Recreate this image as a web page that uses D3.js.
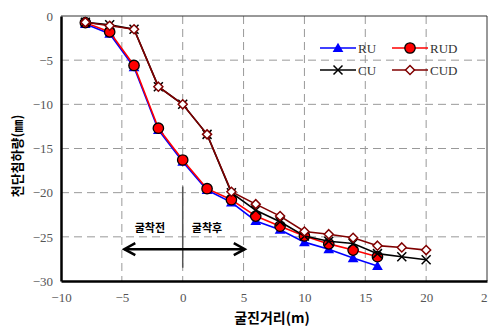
<!DOCTYPE html>
<html>
<head>
<meta charset="utf-8">
<script src="https://cdn.jsdelivr.net/npm/d3@7"></script>
<style>
  html, body { margin: 0; padding: 0; background: #fff; }
  svg { display: block; }
</style>
</head>
<body>
<svg id="chart" width="488" height="329"></svg>
<script>
// Tunnel-crown settlement vs. excavation distance
const xTicks = [-10, -5, 0, 5, 10, 15, 20, 25];
const yTicks = [0, -5, -10, -15, -20, -25, -30];

const xRU  = [-8, -6, -4, -2, 0, 2, 4, 6, 8, 10, 12, 14, 16];
const xCU  = [-8, -6, -4, -2, 0, 2, 4, 6, 8, 10, 12, 14, 16, 18, 20];

const ruValues  = [-0.9, -2.0, -5.8, -12.9, -16.5, -19.7, -21.1, -23.2, -24.2, -25.6, -26.4, -27.4, -28.3];
const rudValues = [-0.75, -1.8, -5.6, -12.7, -16.3, -19.55, -20.8, -22.65, -23.8, -24.9, -25.8, -26.5, -27.25];
const cuValues  = [-0.7, -1.0, -1.5, -8.0, -10.0, -13.4, -20.0, -22.0, -23.3, -24.9, -25.5, -25.75, -26.9, -27.25, -27.6];
const cudValues = [-0.7, -1.1, -1.5, -8.0, -10.0, -13.4, -19.9, -21.3, -22.65, -24.4, -24.7, -25.1, -26.0, -26.2, -26.5];

const seriesNames = ["RU", "RUD", "CU", "CUD"];

const xLabel = "굴진거리(m)";
const yLabel = "천단침하량(㎜)";
const beforeLabel = "굴착전";
const afterLabel = "굴착후";

const margin = { left: 61, right: 1, top: 16, bottom: 48 };
const W = 488, H = 329;
const svg = d3.select("#chart");

const x = d3.scaleLinear().domain([-10, 25]).range([margin.left, W - margin.right]);
const y = d3.scaleLinear().domain([-30, 0]).range([H - margin.bottom, margin.top]);

const tickFont = "'Liberation Serif', 'DejaVu Serif', serif";
const koFont = "'Noto Sans CJK KR', sans-serif";

// dashed grid
const grid = svg.append("g");
grid.selectAll("line.gx").data(xTicks.slice(1, -1)).join("line")
  .attr("x1", d => x(d)).attr("x2", d => x(d))
  .attr("y1", y(0)).attr("y2", y(-30))
  .attr("stroke", "#999").attr("stroke-width", 1).attr("stroke-dasharray", "8,5");
grid.selectAll("line.gy").data(yTicks.slice(1, -1)).join("line")
  .attr("x1", x(-10)).attr("x2", x(25))
  .attr("y1", d => y(d)).attr("y2", d => y(d))
  .attr("stroke", "#999").attr("stroke-width", 1).attr("stroke-dasharray", "8,5");

// frame: thin top/right, heavy left/bottom
svg.append("line").attr("x1", x(-10)).attr("x2", x(25)).attr("y1", y(0)).attr("y2", y(0))
  .attr("stroke", "#333").attr("stroke-width", 1);
svg.append("line").attr("x1", x(25)).attr("x2", x(25)).attr("y1", y(0)).attr("y2", y(-30))
  .attr("stroke", "#333").attr("stroke-width", 1);

const xAxis = svg.append("g").attr("transform", `translate(0,${y(-30)})`)
  .call(d3.axisBottom(x).tickValues(xTicks).tickSize(0).tickPadding(12).tickFormat(d3.format("d")));
const yAxis = svg.append("g").attr("transform", `translate(${x(-10)},0)`)
  .call(d3.axisLeft(y).tickValues(yTicks).tickSize(0).tickPadding(8).tickFormat(d3.format("d")));
[xAxis, yAxis].forEach(a => {
  a.select(".domain").attr("stroke", "#000").attr("stroke-width", 2.5);
  a.selectAll("text").attr("font-family", tickFont).attr("font-size", 13).attr("fill", "#555");
});

// axis titles
svg.append("text").attr("x", 272).attr("y", 323).attr("text-anchor", "middle")
  .attr("font-family", koFont).attr("font-weight", "bold").attr("font-size", 14)
  .text(xLabel);
svg.append("text").attr("transform", `translate(22,156) rotate(-90)`)
  .attr("text-anchor", "middle").attr("font-family", koFont).attr("font-weight", "bold").attr("font-size", 13)
  .text(yLabel);

// before / after annotation
const ann = svg.append("g");
ann.append("line").attr("x1", x(0)).attr("x2", x(0)).attr("y1", y(-19.3)).attr("y2", y(-28.5))
  .attr("stroke", "#555").attr("stroke-width", 1.5);
const ay = y(-26.4), ax0 = x(-4.8), ax1 = x(5.1);
ann.append("line").attr("x1", ax0).attr("x2", ax1).attr("y1", ay).attr("y2", ay)
  .attr("stroke", "#000").attr("stroke-width", 2.5);
ann.append("path").attr("d", `M${ax0 + 11},${ay - 6} L${ax0},${ay} L${ax0 + 11},${ay + 6}`)
  .attr("fill", "none").attr("stroke", "#000").attr("stroke-width", 2.5);
ann.append("path").attr("d", `M${ax1 - 11},${ay - 6} L${ax1},${ay} L${ax1 - 11},${ay + 6}`)
  .attr("fill", "none").attr("stroke", "#000").attr("stroke-width", 2.5);
ann.append("text").attr("x", x(-2.7)).attr("y", y(-24.5)).attr("text-anchor", "middle")
  .attr("font-family", koFont).attr("font-weight", "bold").attr("font-size", 11).text(beforeLabel);
ann.append("text").attr("x", x(2.0)).attr("y", y(-24.5)).attr("text-anchor", "middle")
  .attr("font-family", koFont).attr("font-weight", "bold").attr("font-size", 11).text(afterLabel);

// series
const series = [
  { name: seriesNames[0], xs: xRU, ys: ruValues,  color: "#0000ff", marker: "tri" },
  { name: seriesNames[1], xs: xRU, ys: rudValues, color: "#ff0000", marker: "circle" },
  { name: seriesNames[2], xs: xCU, ys: cuValues,  color: "#000000", marker: "cross" },
  { name: seriesNames[3], xs: xCU, ys: cudValues, color: "#800000", marker: "diamond" }
];

function drawMarker(g, type, color, cx, cy) {
  if (type === "tri") {
    g.append("path").attr("d", d3.symbol(d3.symbolTriangle, 50)())
      .attr("transform", `translate(${cx},${cy + 1})`).attr("fill", "#0000ff");
  } else if (type === "circle") {
    g.append("circle").attr("cx", cx).attr("cy", cy).attr("r", 5.2)
      .attr("fill", "#ff0000").attr("stroke", "#000").attr("stroke-width", 1.3);
  } else if (type === "cross") {
    const s = 4.5;
    g.append("path").attr("d", `M${cx - s},${cy - s}L${cx + s},${cy + s}M${cx - s},${cy + s}L${cx + s},${cy - s}`)
      .attr("stroke", "#000").attr("stroke-width", 1.5).attr("fill", "none");
  } else {
    const s = 4.5;
    g.append("path").attr("d", `M${cx},${cy - s}L${cx + s},${cy}L${cx},${cy + s}L${cx - s},${cy}Z`)
      .attr("fill", "#fff").attr("stroke", "#800000").attr("stroke-width", 1.5);
  }
}

const line = d3.line().x(d => x(d[0])).y(d => y(d[1]));
series.forEach(s => {
  const pts = s.xs.map((v, i) => [v, s.ys[i]]);
  const g = svg.append("g");
  g.append("path").datum(pts).attr("d", line)
    .attr("fill", "none").attr("stroke", s.color).attr("stroke-width", 1.6);
  pts.forEach(p => drawMarker(g, s.marker, s.color, x(p[0]), y(p[1])));
});

// legend
const legend = svg.append("g");
const legendPos = [[320, 48], [392, 48], [320, 70], [392, 70]];
series.forEach((s, i) => {
  const [lx, ly] = legendPos[i];
  legend.append("line").attr("x1", lx).attr("x2", lx + 36).attr("y1", ly).attr("y2", ly)
    .attr("stroke", s.color).attr("stroke-width", 1.6);
  drawMarker(legend, s.marker, s.color, lx + 18, ly);
  legend.append("text").attr("x", lx + 38).attr("y", ly + 5)
    .attr("font-family", tickFont).attr("font-size", 13).attr("fill", "#333").text(s.name);
});
</script>
</body>
</html>
